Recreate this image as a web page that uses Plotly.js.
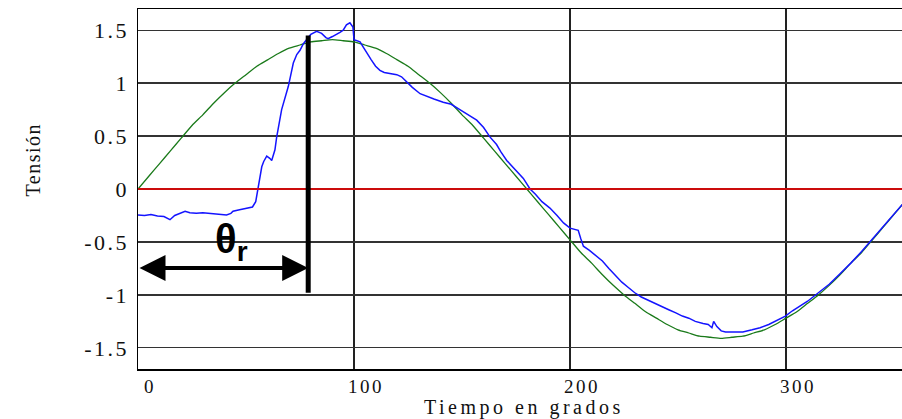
<!DOCTYPE html>
<html>
<head>
<meta charset="utf-8">
<script src="https://cdn.plot.ly/plotly-3.0.1.min.js"></script>
<style>
html,body{margin:0;padding:0;overflow:hidden;background:#fff;width:902px;height:419px;}
#chart{width:920px;height:419px;}
.xtick text,.ytick text{letter-spacing:2.5px;}
</style>
</head>
<body>
<div id="chart"></div>
<script>
// Reference sinusoid (green), sampled every 5 degrees
const greenX = [0,5,10,15,20,25,30,35,40,45,50,55,60,65,70,75,80,85,90,95,100,105,110,115,120,125,130,135,140,145,150,155,160,165,170,175,180,185,190,195,200,205,210,215,220,225,230,235,240,245,250,255,260,265,270,275,280,285,290,295,300,305,310,315,320,325,330,335,340,345,350,355];
const greenY = [0,0.12,0.24,0.36,0.48,0.60,0.70,0.81,0.91,1.00,1.08,1.16,1.22,1.28,1.33,1.36,1.39,1.40,1.41,1.40,1.39,1.36,1.33,1.28,1.22,1.16,1.08,1.00,0.91,0.81,0.70,0.60,0.48,0.36,0.24,0.12,0,-0.12,-0.24,-0.36,-0.48,-0.60,-0.70,-0.81,-0.91,-1.00,-1.08,-1.16,-1.22,-1.28,-1.33,-1.36,-1.39,-1.40,-1.41,-1.40,-1.39,-1.36,-1.33,-1.28,-1.22,-1.16,-1.08,-1.00,-0.91,-0.81,-0.70,-0.60,-0.48,-0.36,-0.24,-0.12];

// Measured voltage (blue)
const blueX = [0,3,6,9,12,14.8,17,19,21.8,24,27,30,35,38,41,43,44,47,50,53,54.5,55.6,56.5,57.3,58.2,59.6,61,61.9,63.4,64.2,66.5,68,69.6,71.9,73.5,75,76.5,78,80,82.7,85,87,88,90,92,93.5,95,96.5,98.1,99.5,100,101,102.8,104,106,108,110,112,114,117,119.8,122,124,127,130.6,134,137,141.3,145,149,153,156.8,160,163,166,168,170.7,173,176,178.4,181.5,184,187,190.7,194,197,200,202,203.8,205,206.2,209,212,215,218,221,224,227,230,233,236,239,242,245.7,249,252,255,258,261.6,264,265.7,266.5,268,270,272,276.5,280,284.3,288,292,296,299.7,303,307.4,310,315,320,325,330,335,340,345,350,355];
const blueY = [-0.245,-0.25,-0.24,-0.255,-0.26,-0.29,-0.25,-0.235,-0.21,-0.225,-0.23,-0.225,-0.235,-0.235,-0.245,-0.23,-0.21,-0.195,-0.185,-0.17,-0.12,0,0.12,0.21,0.26,0.31,0.29,0.27,0.37,0.49,0.75,0.87,0.97,1.19,1.27,1.31,1.37,1.41,1.46,1.49,1.47,1.43,1.42,1.44,1.46,1.48,1.50,1.55,1.57,1.53,1.41,1.40,1.39,1.35,1.28,1.22,1.16,1.12,1.10,1.09,1.08,1.06,1.02,0.96,0.90,0.87,0.85,0.82,0.80,0.75,0.70,0.65,0.58,0.49,0.42,0.35,0.27,0.22,0.15,0.10,0.0,-0.05,-0.12,-0.18,-0.25,-0.32,-0.37,-0.38,-0.39,-0.47,-0.54,-0.58,-0.63,-0.68,-0.75,-0.82,-0.88,-0.93,-0.98,-1.02,-1.05,-1.08,-1.11,-1.14,-1.17,-1.20,-1.22,-1.25,-1.27,-1.28,-1.31,-1.25,-1.30,-1.34,-1.35,-1.35,-1.35,-1.33,-1.31,-1.28,-1.24,-1.20,-1.15,-1.09,-1.06,-0.98,-0.90,-0.80,-0.70,-0.59,-0.47,-0.36,-0.24,-0.12];

const xTicks = [0,100,200,300];
const xTickText = ['0','100','200','300'];
const yTicks = [-1.5,-1,-0.5,0,0.5,1,1.5];
const yTickText = ['-1.5','-1','-0.5','0','0.5','1','1.5'];

const xTitle = 'Tiempo en grados';
const yTitle = 'Tensión';

// Annotation marks (theta_r)
const thetaX = 78.8;
const thetaBarTop = 1.45, thetaBarBottom = -0.98;
const arrowY = -0.745;
const zeroLevel = 0;

const traces = [
  {x: greenX, y: greenY, type:'scatter', mode:'lines', line:{color:'#1a7a1a', width:1.3, shape:'spline', smoothing:0.6}, hoverinfo:'skip'},
  {x: blueX, y: blueY, type:'scatter', mode:'lines', line:{color:'#1414ff', width:1.5}, hoverinfo:'skip'}
];

const layout = {
  width: 920, height: 419,
  margin: {l:138, r:10, t:9, b:50},
  paper_bgcolor:'#fff', plot_bgcolor:'#fff',
  showlegend:false,
  font:{family:'"Liberation Serif", "Times New Roman", serif', color:'#111'},
  xaxis:{
    range:[0, 357.4], tickvals:xTicks, ticktext:xTickText,
    showgrid:true, gridcolor:'#222', gridwidth:1.5,
    zeroline:false, showline:true, linecolor:'#000', linewidth:1.5, mirror:true,
    ticks:'', tickfont:{size:19, color:'#111'}, ticklabelshift:12, ticklabelstandoff:0
  },
  yaxis:{
    range:[-1.7, 1.7], tickvals:yTicks, ticktext:yTickText,
    showgrid:true, gridcolor:'#333', gridwidth:1.3,
    zeroline:false,
    showline:true, linecolor:'#000', linewidth:1.5, mirror:true,
    ticks:'', tickfont:{size:22, color:'#111'}, ticklabelstandoff:3
  },
  shapes:[
    {type:'line', xref:'paper', yref:'y', x0:0, x1:1, y0:zeroLevel, y1:zeroLevel, layer:'above', line:{color:'#ff0000', width:1.6}},
    {type:'line', xref:'x', yref:'y', x0:thetaX, x1:thetaX, y0:thetaBarBottom, y1:thetaBarTop, line:{color:'#000', width:5}}
  ],
  annotations:[
    {xref:'x', yref:'y', axref:'x', ayref:'y', x:thetaX, y:arrowY, ax:0, ay:arrowY, text:'', showarrow:true,
     arrowhead:2, startarrowhead:2, arrowside:'end+start', arrowsize:1.3, startarrowsize:1.3, arrowwidth:4, arrowcolor:'#000', standoff:0, startstandoff:0},
    {xref:'x', yref:'y', x:43.5, y:-0.5, text:'<b>θ<sub>r</sub></b>', showarrow:false,
     font:{family:'"Liberation Sans", Arial, sans-serif', size:40, color:'#000'}},
    {xref:'paper', yref:'paper', x:0.5, y:0, yshift:-38.5, xanchor:'center', yanchor:'middle', showarrow:false,
     text:xTitle, font:{size:20, color:'#111'}},
    {xref:'paper', yref:'paper', x:0, xshift:-105, y:0.58, yanchor:'middle', xanchor:'center', textangle:-90, showarrow:false,
     text:yTitle, font:{size:20, color:'#111'}}
  ]
};

Plotly.newPlot('chart', traces, layout, {staticPlot:true, displayModeBar:false}).then(function(){
  document.querySelectorAll('.annotation-text').forEach(function(t){
    if (t.textContent === xTitle) t.style.letterSpacing = '3.5px';
    if (t.textContent === yTitle) t.style.letterSpacing = '1.5px';
  });
});
</script>
</body>
</html>
